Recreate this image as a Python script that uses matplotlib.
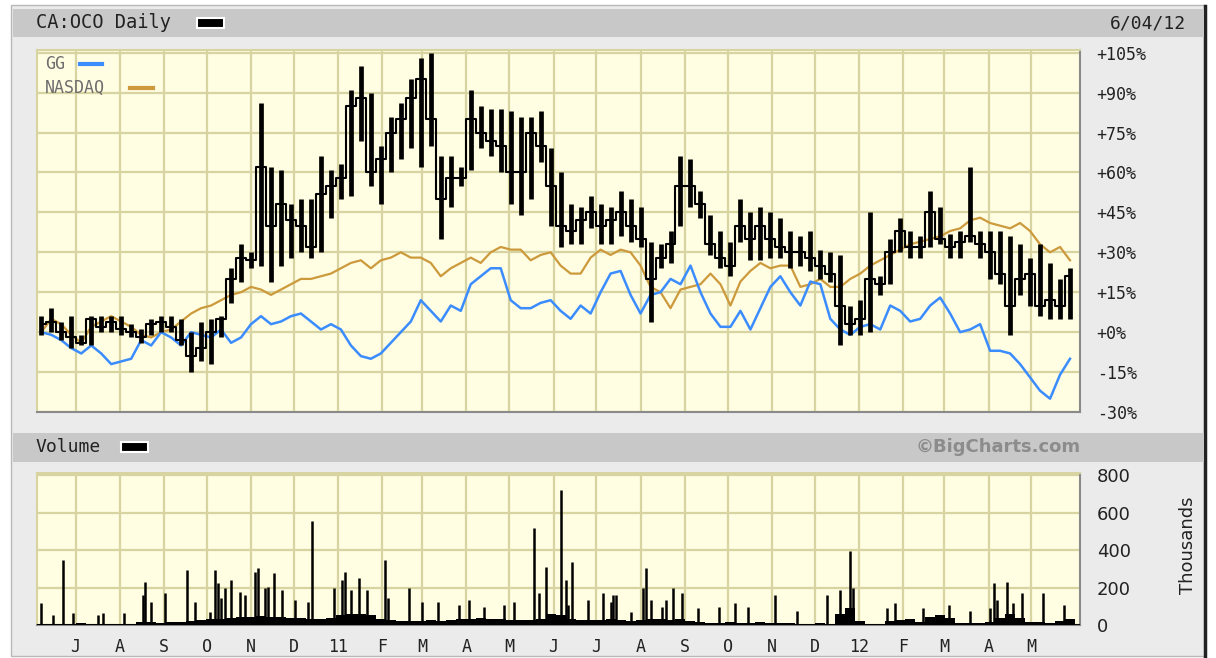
import numpy as np
import pandas as pd
import matplotlib
matplotlib.use('Agg')
import matplotlib.pyplot as plt
from matplotlib.patches import Rectangle
from matplotlib.lines import Line2D

W, H = 1216, 658

start = pd.Timestamp('2010-06-04')
end = pd.Timestamp('2012-06-04')

# CA:OCO weekly high / low / close, % change since start
oco_hi = [6, 9, 4, 6, -1, 6, 6, 6, 6, 3,
          1, 5, 6, 6, 5, 0, 4, 5, 6, 24,
          33, 30, 86, 62, 61, 48, 50, 50, 66, 61,
          63, 91, 100, 90, 70, 81, 86, 95, 103, 105,
          66, 66, 62, 91, 85, 84, 84, 83, 81, 81,
          83, 69, 60, 48, 47, 51, 48, 47, 53, 50,
          47, 34, 33, 38, 66, 65, 53, 44, 38, 34,
          50, 45, 47, 45, 43, 38, 36, 38, 31, 30,
          29, 10, 12, 45, 21, 35, 43, 38, 36, 53,
          47, 37, 38, 62, 38, 38, 38, 36, 33, 28,
          33, 26, 20, 24]
oco_lo = [-1, 0, -3, -6, -5, -5, 0, 0, -1, -2,
          -4, -1, 0, 0, -5, -15, -11, -12, -2, 11,
          19, 24, 25, 19, 25, 28, 30, 28, 30, 43,
          50, 51, 72, 55, 48, 60, 65, 69, 62, 70,
          35, 47, 55, 61, 69, 66, 60, 48, 44, 50,
          64, 40, 32, 33, 33, 39, 33, 33, 36, 34,
          32, 4, 24, 26, 40, 47, 43, 29, 24, 21,
          34, 27, 27, 28, 28, 24, 25, 23, 20, 19,
          -5, -1, -1, 0, 14, 18, 30, 28, 28, 32,
          33, 28, 28, 34, 28, 20, 18, -1, 14, 10,
          6, 5, 5, 5]
oco_close = [3, 4, 0, -2, -4, 5, 2, 4, 1, 0,
             -2, 3, 4, 2, -3, -9, -6, 0, 5, 20,
             28, 27, 62, 40, 48, 42, 40, 32, 52, 55,
             58, 85, 88, 60, 65, 75, 80, 88, 95, 80,
             50, 58, 58, 80, 75, 72, 70, 60, 60, 75,
             70, 55, 40, 38, 42, 45, 40, 42, 45, 40,
             35, 20, 28, 33, 55, 55, 48, 33, 28, 25,
             40, 35, 40, 35, 32, 30, 30, 28, 25, 22,
             10, 3, 5, 20, 18, 30, 38, 32, 32, 45,
             35, 32, 34, 36, 33, 30, 22, 10, 20, 22,
             10, 12, 10, 21]

# comparison series, weekly % change
gg = [0, -1, -3, -6, -8, -5, -8, -12, -11, -10,
      -3, -5, 0, -2, -5, 0, -1, -2, 1, -4,
      -2, 3, 6, 3, 4, 6, 7, 4, 1, 3,
      1, -5, -9, -10, -8, -4, 0, 4, 12, 8,
      4, 10, 8, 18, 21, 24, 24, 12, 9, 9,
      11, 12, 8, 5, 10, 7, 15, 22, 23, 14,
      7, 14, 15, 20, 18, 25, 15, 7, 2, 2,
      8, 1, 9, 17, 21, 15, 10, 19, 18, 5,
      1, -1, 2, 3, 1, 10, 8, 4, 5, 10,
      13, 7, 0, 1, 3, -7, -7, -8, -12, -17,
      -22, -25, -16, -10]
nasdaq = [0, 5, 3, -1, -4, 2, 4, 6, 4, 2,
          -1, -2, 0, 1, 4, 7, 9, 10, 12, 14,
          15, 17, 16, 14, 16, 18, 20, 20, 21, 22,
          24, 26, 27, 24, 27, 28, 30, 28, 28, 26,
          21, 24, 26, 28, 26, 30, 32, 31, 31, 27,
          29, 30, 25, 22, 22, 28, 31, 29, 31, 30,
          25, 17, 15, 9, 16, 17, 18, 22, 18, 10,
          19, 23, 26, 24, 25, 25, 17, 18, 20, 17,
          17, 20, 22, 25, 27, 29, 31, 33, 34, 35,
          36, 38, 39, 42, 43, 41, 40, 39, 41, 38,
          33, 30, 32, 27]

# volume (thousands): weekly background level plus single-day spikes
vol_base = [5, 5, 8, 5, 10, 5, 5, 8, 5, 8,
            15, 15, 12, 15, 18, 20, 25, 30, 30, 40,
            45, 45, 50, 45, 45, 40, 40, 30, 30, 35,
            55, 60, 60, 55, 30, 25, 20, 20, 20, 25,
            20, 25, 30, 30, 35, 30, 30, 25, 25, 25,
            30, 60, 55, 30, 25, 25, 25, 30, 25, 20,
            25, 30, 30, 25, 30, 20, 15, 10, 10, 15,
            10, 10, 15, 10, 10, 10, 5, 5, 10, 5,
            60, 90, 20, 5, 5, 20, 25, 30, 15, 45,
            55, 40, 10, 10, 10, 15, 35, 60, 35, 15,
            15, 10, 20, 30]
vol_day = [3, 11, 18, 25, 43, 46, 61, 74, 76, 80, 90, 105, 111, 121, 125,
           127, 129, 132, 136, 142, 146, 153, 155, 160, 162, 166, 172, 181,
           190, 193, 208, 214, 216, 220, 226, 231, 244, 246, 261, 270, 281,
           296, 303, 313, 327, 334, 348, 352, 357, 367, 371, 372, 375, 386,
           397, 402, 404, 406, 416, 425, 427, 430, 438, 441, 446, 452, 463,
           478, 489, 498, 517, 533, 554, 563, 570, 572, 596, 601, 621, 639,
           654, 668, 671, 673, 680, 684, 690, 705, 720]
vol_k = [116, 53, 347, 62, 53, 62, 62, 160, 231, 125, 169, 294, 125, 71, 294,
         222, 142, 196, 240, 178, 160, 285, 302, 196, 205, 276, 187, 133,
         125, 555, 196, 240, 285, 187, 249, 187, 347, 142, 196, 125, 125,
         107, 133, 98, 107, 125, 516, 169, 311, 721, 240, 107, 338, 133,
         169, 125, 160, 160, 71, 196, 302, 133, 98, 133, 196, 169, 89,
         98, 116, 98, 160, 75, 160, 187, 395, 196, 89, 116, 89, 107,
         75, 89, 222, 133, 231, 116, 169, 169, 107]

month_labels = ['J', 'A', 'S', 'O', 'N', 'D', '11', 'F', 'M', 'A', 'M', 'J',
                'J', 'A', 'S', 'O', 'N', 'D', '12', 'F', 'M', 'A', 'M']
pct_ticks = [105, 90, 75, 60, 45, 30, 15, 0, -15, -30]
vol_ticks = [0, 200, 400, 600, 800]

# colours
BG = '#ebebeb'
BAR = '#c8c8c8'
PLOT_BG = '#fffde2'
GRID = '#d8d4a2'
BLUE = '#3a8cff'
TAN = '#cc9a3c'


def fx(x):
    return x / W


def fy(y):
    return 1 - y / H


def frect(x0, y0, x1, y1, **kw):
    return Rectangle((fx(x0), fy(y1)), (x1 - x0) / W, (y1 - y0) / H,
                     transform=fig.transFigure, **kw)


weeks = pd.date_range(start, periods=len(gg), freq='7D') + pd.Timedelta(days=3)
months = pd.date_range('2010-07-01', '2012-05-01', freq='MS')
vol_dates = start + pd.to_timedelta(vol_day, unit='D')

fig = plt.figure(figsize=(W / 100, H / 100), dpi=100)
fig.patch.set_facecolor('white')

# panel frame and title bars
fig.add_artist(frect(11, 5, 1205, 656, facecolor=BG, edgecolor='#b8b8b8', lw=1, zorder=0))
fig.add_artist(Line2D([fx(1205), fx(1205)], [fy(6), fy(656)], transform=fig.transFigure,
                      color='#222222', lw=2.5, zorder=1))
fig.add_artist(frect(13, 9, 1204, 37, facecolor=BAR, edgecolor='none', zorder=1))
fig.add_artist(frect(13, 433, 1204, 462, facecolor=BAR, edgecolor='none', zorder=1))

mono = 'DejaVu Sans Mono'
fig.text(fx(36), fy(23), 'CA:OCO Daily', family=mono, fontsize=13.5, va='center',
         ha='left', color='#222222')
fig.add_artist(frect(197, 18, 224, 28, facecolor='black', edgecolor='white', lw=1.5, zorder=3))
fig.text(fx(1186), fy(23), '6/04/12', family=mono, fontsize=13, va='center',
         ha='right', color='#222222')
fig.text(fx(36), fy(447), 'Volume', family=mono, fontsize=13, va='center',
         ha='left', color='#222222')
fig.add_artist(frect(121, 442, 148, 452, facecolor='black', edgecolor='white', lw=1.5, zorder=3))
fig.text(fx(1081), fy(447), '\u00a9BigCharts.com', family='DejaVu Sans', fontsize=13,
         fontweight='bold', va='center', ha='right', color='#8c8c8c')

# price panel
ax = fig.add_axes([fx(37), fy(412), (1080 - 37) / W, (412 - 50) / H])
ax.set_facecolor(PLOT_BG)
ax.set_xlim(start, end)
ax.set_ylim(-30, 106)
ax.set_yticks(pct_ticks)
ax.set_yticklabels(['{:+d}%'.format(t) if t != 0 else '+0%' for t in pct_ticks])
ax.set_xticks(months)
ax.tick_params(axis='x', length=0, labelbottom=False)
ax.tick_params(axis='y', length=0, left=False, labelleft=False, right=False,
               labelright=True, pad=12, labelsize=12, labelcolor='#222222')
for lab in ax.get_yticklabels():
    lab.set_family(mono)
ax.grid(True, color=GRID, lw=1.6)
ax.set_axisbelow(True)

ax.plot(weeks, nasdaq, color=TAN, lw=1.6, zorder=3)
ax.plot(weeks, gg, color=BLUE, lw=1.8, zorder=3)
ax.vlines(weeks, oco_lo, oco_hi, color='black', lw=3.4, zorder=4)
ax.plot(weeks, oco_close, color='black', lw=1.5, drawstyle='steps-mid', zorder=4)

# legend inside the plot
ax.text(0.008, 0.96, 'GG', transform=ax.transAxes, family=mono, fontsize=12,
        color='#6e6e6e', va='center')
ax.text(0.008, 0.894, 'NASDAQ', transform=ax.transAxes, family=mono, fontsize=12,
        color='#6e6e6e', va='center')
fig.add_artist(Line2D([fx(80), fx(102)], [fy(64), fy(64)], transform=fig.transFigure,
                      color=BLUE, lw=3, zorder=5))
fig.add_artist(Line2D([fx(130), fx(153)], [fy(88), fy(88)], transform=fig.transFigure,
                      color=TAN, lw=3, zorder=5))

# volume panel
axv = fig.add_axes([fx(37), fy(625), (1080 - 37) / W, (625 - 473) / H])
axv.set_facecolor(PLOT_BG)
axv.set_xlim(start, end)
axv.set_ylim(0, 811)
axv.set_yticks(vol_ticks)
axv.set_xticks(months)
axv.set_xticklabels(month_labels)
axv.tick_params(axis='x', length=0, pad=9, labelsize=12, labelcolor='#222222')
for lab in axv.get_xticklabels():
    lab.set_family(mono)
axv.tick_params(axis='y', length=0, left=False, labelleft=False, right=False,
                labelright=True, pad=12, labelsize=13, labelcolor='#222222')
axv.grid(True, color=GRID, lw=1.6)
axv.set_axisbelow(True)

axv.bar(weeks, vol_base, width=7, color='black', zorder=3)
axv.vlines(vol_dates, 0, vol_k, color='black', lw=1.8, zorder=3)
axv.axhline(0, color='black', lw=2, zorder=4)
fig.text(fx(1188), fy(545), 'Thousands', rotation=90, fontsize=13, va='center',
         ha='center', color='#222222')

for a in (ax, axv):
    a.spines['top'].set_color(GRID)
    a.spines['left'].set_color(GRID)
    a.spines['right'].set_color('#8a8a8a')
    a.spines['bottom'].set_color('#8a8a8a')
    for s in a.spines.values():
        s.set_linewidth(1.5)

fig.savefig('out.png', dpi=100, facecolor=fig.get_facecolor())
